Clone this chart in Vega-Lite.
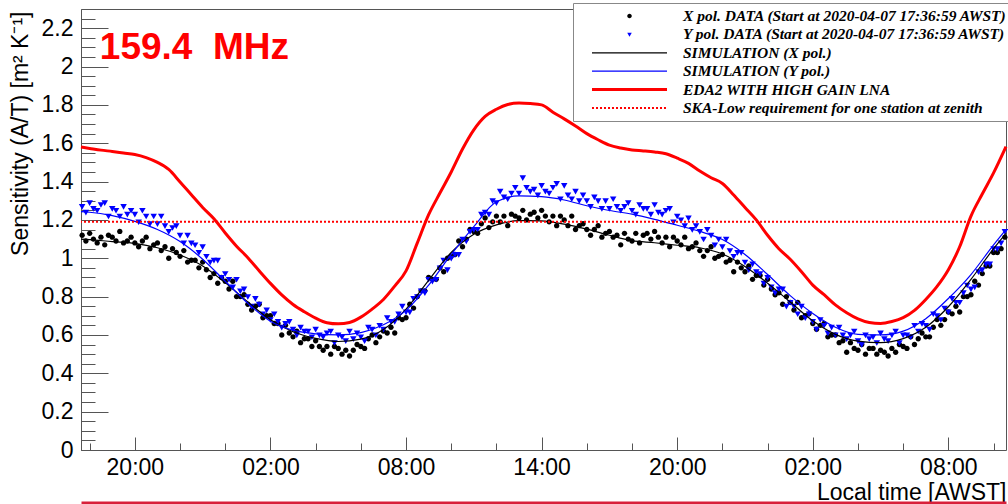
{
  "$schema": "https://vega.github.io/schema/vega-lite/v6.json",
  "width": 925,
  "height": 441,
  "autosize": {"type": "none"},
  "padding": {"left": 81, "top": 9, "right": 2, "bottom": 54},
  "background": "white",
  "config": {
    "view": {"stroke": "#555555", "strokeWidth": 1},
    "font": "Liberation Sans",
    "axis": {
      "labelFont": "Liberation Sans", "labelFontSize": 23, "labelColor": "black",
      "labelOverlap": false, "labelFlush": false, "labelBound": false,
      "tickColor": "#555555", "tickWidth": 1,
      "domain": false, "grid": false,
      "titleFont": "Liberation Sans", "titleFontSize": 23, "titleFontWeight": "normal", "titleColor": "black"
    }
  },
  "resolve": {"axis": {"x": "independent", "y": "independent"}},
  "datasets": {
    "xpol": [
      {"t":"2020-04-07T17:40","v":1.12},{"t":"2020-04-07T17:50","v":1.09},{"t":"2020-04-07T18:00","v":1.13},{"t":"2020-04-07T18:10","v":1.10},{"t":"2020-04-07T18:20","v":1.08},{"t":"2020-04-07T18:30","v":1.11},{"t":"2020-04-07T18:40","v":1.07},{"t":"2020-04-07T18:50","v":1.12},{"t":"2020-04-07T19:00","v":1.11},{"t":"2020-04-07T19:10","v":1.09},{"t":"2020-04-07T19:20","v":1.14},{"t":"2020-04-07T19:30","v":1.08},{"t":"2020-04-07T19:40","v":1.09},{"t":"2020-04-07T19:50","v":1.11},{"t":"2020-04-07T20:00","v":1.08},{"t":"2020-04-07T20:10","v":1.06},{"t":"2020-04-07T20:20","v":1.09},{"t":"2020-04-07T20:30","v":1.11},{"t":"2020-04-07T20:40","v":1.05},{"t":"2020-04-07T20:50","v":1.07},{"t":"2020-04-07T21:00","v":1.08},{"t":"2020-04-07T21:10","v":1.04},{"t":"2020-04-07T21:20","v":1.06},{"t":"2020-04-07T21:30","v":1.00},{"t":"2020-04-07T21:40","v":1.05},{"t":"2020-04-07T21:50","v":1.03},{"t":"2020-04-07T22:00","v":1.01},{"t":"2020-04-07T22:10","v":1.04},{"t":"2020-04-07T22:20","v":0.98},{"t":"2020-04-07T22:30","v":0.99},{"t":"2020-04-07T22:40","v":0.99},{"t":"2020-04-07T22:50","v":0.95},{"t":"2020-04-07T23:00","v":0.98},{"t":"2020-04-07T23:10","v":0.94},{"t":"2020-04-07T23:20","v":0.90},{"t":"2020-04-07T23:30","v":0.92},{"t":"2020-04-07T23:40","v":0.87},{"t":"2020-04-07T23:50","v":0.90},
      {"t":"2020-04-08T00:00","v":0.88},{"t":"2020-04-08T00:10","v":0.84},{"t":"2020-04-08T00:20","v":0.88},{"t":"2020-04-08T00:30","v":0.80},{"t":"2020-04-08T00:40","v":0.80},{"t":"2020-04-08T00:50","v":0.81},{"t":"2020-04-08T01:00","v":0.76},{"t":"2020-04-08T01:10","v":0.73},{"t":"2020-04-08T01:20","v":0.75},{"t":"2020-04-08T01:30","v":0.76},{"t":"2020-04-08T01:40","v":0.69},{"t":"2020-04-08T01:50","v":0.70},{"t":"2020-04-08T02:00","v":0.70},{"t":"2020-04-08T02:10","v":0.66},{"t":"2020-04-08T02:20","v":0.66},{"t":"2020-04-08T02:30","v":0.60},{"t":"2020-04-08T02:40","v":0.65},{"t":"2020-04-08T02:50","v":0.61},{"t":"2020-04-08T03:00","v":0.59},{"t":"2020-04-08T03:10","v":0.62},{"t":"2020-04-08T03:20","v":0.56},{"t":"2020-04-08T03:30","v":0.58},{"t":"2020-04-08T03:40","v":0.58},{"t":"2020-04-08T03:50","v":0.54},{"t":"2020-04-08T04:00","v":0.57},{"t":"2020-04-08T04:10","v":0.54},{"t":"2020-04-08T04:20","v":0.52},{"t":"2020-04-08T04:30","v":0.54},{"t":"2020-04-08T04:40","v":0.50},{"t":"2020-04-08T04:50","v":0.54},{"t":"2020-04-08T05:00","v":0.53},{"t":"2020-04-08T05:10","v":0.50},{"t":"2020-04-08T05:20","v":0.52},{"t":"2020-04-08T05:30","v":0.49},{"t":"2020-04-08T05:40","v":0.52},{"t":"2020-04-08T05:50","v":0.55},{"t":"2020-04-08T06:00","v":0.54},{"t":"2020-04-08T06:10","v":0.53},{"t":"2020-04-08T06:20","v":0.58},{"t":"2020-04-08T06:30","v":0.60},{"t":"2020-04-08T06:40","v":0.56},{"t":"2020-04-08T06:50","v":0.59},{"t":"2020-04-08T07:00","v":0.62},{"t":"2020-04-08T07:10","v":0.61},{"t":"2020-04-08T07:20","v":0.64},{"t":"2020-04-08T07:30","v":0.61},{"t":"2020-04-08T07:40","v":0.69},{"t":"2020-04-08T07:50","v":0.68},{"t":"2020-04-08T08:00","v":0.69},{"t":"2020-04-08T08:10","v":0.76},{"t":"2020-04-08T08:20","v":0.74},{"t":"2020-04-08T08:30","v":0.80},{"t":"2020-04-08T08:40","v":0.83},{"t":"2020-04-08T08:50","v":0.83},{"t":"2020-04-08T09:00","v":0.90},{"t":"2020-04-08T09:10","v":0.89},{"t":"2020-04-08T09:20","v":0.89},{"t":"2020-04-08T09:30","v":0.95},{"t":"2020-04-08T09:40","v":0.93},{"t":"2020-04-08T09:50","v":1.00},{"t":"2020-04-08T10:00","v":1.01},{"t":"2020-04-08T10:10","v":1.02},{"t":"2020-04-08T10:20","v":1.09},{"t":"2020-04-08T10:30","v":1.06},{"t":"2020-04-08T10:40","v":1.10},{"t":"2020-04-08T10:50","v":1.15},{"t":"2020-04-08T11:00","v":1.14},{"t":"2020-04-08T11:10","v":1.13},{"t":"2020-04-08T11:20","v":1.18},{"t":"2020-04-08T11:30","v":1.21},{"t":"2020-04-08T11:40","v":1.16},{"t":"2020-04-08T11:50","v":1.19},{"t":"2020-04-08T12:00","v":1.22},{"t":"2020-04-08T12:10","v":1.19},{"t":"2020-04-08T12:20","v":1.22},{"t":"2020-04-08T12:30","v":1.17},{"t":"2020-04-08T12:40","v":1.23},{"t":"2020-04-08T12:50","v":1.22},{"t":"2020-04-08T13:00","v":1.21},{"t":"2020-04-08T13:10","v":1.25},{"t":"2020-04-08T13:20","v":1.20},{"t":"2020-04-08T13:30","v":1.23},{"t":"2020-04-08T13:40","v":1.24},{"t":"2020-04-08T13:50","v":1.21},{"t":"2020-04-08T14:00","v":1.25},{"t":"2020-04-08T14:10","v":1.22},{"t":"2020-04-08T14:20","v":1.19},{"t":"2020-04-08T14:30","v":1.22},{"t":"2020-04-08T14:40","v":1.17},{"t":"2020-04-08T14:50","v":1.22},{"t":"2020-04-08T15:00","v":1.20},{"t":"2020-04-08T15:10","v":1.17},{"t":"2020-04-08T15:20","v":1.22},{"t":"2020-04-08T15:30","v":1.15},{"t":"2020-04-08T15:40","v":1.17},{"t":"2020-04-08T15:50","v":1.18},{"t":"2020-04-08T16:00","v":1.15},{"t":"2020-04-08T16:10","v":1.12},{"t":"2020-04-08T16:20","v":1.15},{"t":"2020-04-08T16:30","v":1.17},{"t":"2020-04-08T16:40","v":1.11},{"t":"2020-04-08T16:50","v":1.13},{"t":"2020-04-08T17:00","v":1.14},{"t":"2020-04-08T17:10","v":1.11},{"t":"2020-04-08T17:20","v":1.12},{"t":"2020-04-08T17:30","v":1.07},{"t":"2020-04-08T17:40","v":1.13},{"t":"2020-04-08T17:50","v":1.10},{"t":"2020-04-08T18:00","v":1.09},{"t":"2020-04-08T18:10","v":1.13},{"t":"2020-04-08T18:20","v":1.08},{"t":"2020-04-08T18:30","v":1.12},{"t":"2020-04-08T18:40","v":1.13},{"t":"2020-04-08T18:50","v":1.10},{"t":"2020-04-08T19:00","v":1.14},{"t":"2020-04-08T19:10","v":1.11},{"t":"2020-04-08T19:20","v":1.08},{"t":"2020-04-08T19:30","v":1.11},{"t":"2020-04-08T19:40","v":1.06},{"t":"2020-04-08T19:50","v":1.11},{"t":"2020-04-08T20:00","v":1.09},{"t":"2020-04-08T20:10","v":1.07},{"t":"2020-04-08T20:20","v":1.11},{"t":"2020-04-08T20:30","v":1.05},{"t":"2020-04-08T20:40","v":1.06},{"t":"2020-04-08T20:50","v":1.08},{"t":"2020-04-08T21:00","v":1.04},{"t":"2020-04-08T21:10","v":1.01},{"t":"2020-04-08T21:20","v":1.04},{"t":"2020-04-08T21:30","v":1.06},{"t":"2020-04-08T21:40","v":1.00},{"t":"2020-04-08T21:50","v":1.01},{"t":"2020-04-08T22:00","v":1.02},{"t":"2020-04-08T22:10","v":0.98},{"t":"2020-04-08T22:20","v":0.99},{"t":"2020-04-08T22:30","v":0.93},{"t":"2020-04-08T22:40","v":0.98},{"t":"2020-04-08T22:50","v":0.95},{"t":"2020-04-08T23:00","v":0.93},{"t":"2020-04-08T23:10","v":0.96},{"t":"2020-04-08T23:20","v":0.89},{"t":"2020-04-08T23:30","v":0.91},{"t":"2020-04-08T23:40","v":0.91},{"t":"2020-04-08T23:50","v":0.86},
      {"t":"2020-04-09T00:00","v":0.89},{"t":"2020-04-09T00:10","v":0.84},{"t":"2020-04-09T00:20","v":0.81},{"t":"2020-04-09T00:30","v":0.82},{"t":"2020-04-09T00:40","v":0.76},{"t":"2020-04-09T00:50","v":0.80},{"t":"2020-04-09T01:00","v":0.77},{"t":"2020-04-09T01:10","v":0.73},{"t":"2020-04-09T01:20","v":0.77},{"t":"2020-04-09T01:30","v":0.69},{"t":"2020-04-09T01:40","v":0.70},{"t":"2020-04-09T01:50","v":0.71},{"t":"2020-04-09T02:00","v":0.66},{"t":"2020-04-09T02:10","v":0.63},{"t":"2020-04-09T02:20","v":0.65},{"t":"2020-04-09T02:30","v":0.66},{"t":"2020-04-09T02:40","v":0.59},{"t":"2020-04-09T02:50","v":0.60},{"t":"2020-04-09T03:00","v":0.60},{"t":"2020-04-09T03:10","v":0.56},{"t":"2020-04-09T03:20","v":0.57},{"t":"2020-04-09T03:30","v":0.51},{"t":"2020-04-09T03:40","v":0.56},{"t":"2020-04-09T03:50","v":0.53},{"t":"2020-04-09T04:00","v":0.52},{"t":"2020-04-09T04:10","v":0.55},{"t":"2020-04-09T04:20","v":0.50},{"t":"2020-04-09T04:30","v":0.53},{"t":"2020-04-09T04:40","v":0.53},{"t":"2020-04-09T04:50","v":0.50},{"t":"2020-04-09T05:00","v":0.52},{"t":"2020-04-09T05:10","v":0.51},{"t":"2020-04-09T05:20","v":0.49},{"t":"2020-04-09T05:30","v":0.53},{"t":"2020-04-09T05:40","v":0.51},{"t":"2020-04-09T05:50","v":0.55},{"t":"2020-04-09T06:00","v":0.54},{"t":"2020-04-09T06:10","v":0.53},{"t":"2020-04-09T06:20","v":0.59},{"t":"2020-04-09T06:30","v":0.55},{"t":"2020-04-09T06:40","v":0.58},{"t":"2020-04-09T06:50","v":0.61},{"t":"2020-04-09T07:00","v":0.59},{"t":"2020-04-09T07:10","v":0.59},{"t":"2020-04-09T07:20","v":0.64},{"t":"2020-04-09T07:30","v":0.68},{"t":"2020-04-09T07:40","v":0.65},{"t":"2020-04-09T07:50","v":0.68},{"t":"2020-04-09T08:00","v":0.72},{"t":"2020-04-09T08:10","v":0.71},{"t":"2020-04-09T08:20","v":0.75},{"t":"2020-04-09T08:30","v":0.72},{"t":"2020-04-09T08:40","v":0.80},{"t":"2020-04-09T08:50","v":0.80},{"t":"2020-04-09T09:00","v":0.81},{"t":"2020-04-09T09:10","v":0.88},{"t":"2020-04-09T09:20","v":0.86},{"t":"2020-04-09T09:30","v":0.92},{"t":"2020-04-09T09:40","v":0.96},{"t":"2020-04-09T09:50","v":0.96},{"t":"2020-04-09T10:00","v":1.03},{"t":"2020-04-09T10:10","v":1.03},{"t":"2020-04-09T10:20","v":1.05},{"t":"2020-04-09T10:30","v":1.11}
    ],
    "ypol": [
      {"t":"2020-04-07T17:40","v":1.27},{"t":"2020-04-07T17:50","v":1.24},{"t":"2020-04-07T18:00","v":1.29},{"t":"2020-04-07T18:10","v":1.26},{"t":"2020-04-07T18:20","v":1.25},{"t":"2020-04-07T18:30","v":1.28},{"t":"2020-04-07T18:40","v":1.29},{"t":"2020-04-07T18:50","v":1.22},{"t":"2020-04-07T19:00","v":1.26},{"t":"2020-04-07T19:10","v":1.25},{"t":"2020-04-07T19:20","v":1.22},{"t":"2020-04-07T19:30","v":1.27},{"t":"2020-04-07T19:40","v":1.23},{"t":"2020-04-07T19:50","v":1.25},{"t":"2020-04-07T20:00","v":1.23},{"t":"2020-04-07T20:10","v":1.19},{"t":"2020-04-07T20:20","v":1.25},{"t":"2020-04-07T20:30","v":1.22},{"t":"2020-04-07T20:40","v":1.18},{"t":"2020-04-07T20:50","v":1.22},{"t":"2020-04-07T21:00","v":1.18},{"t":"2020-04-07T21:10","v":1.22},{"t":"2020-04-07T21:20","v":1.17},{"t":"2020-04-07T21:30","v":1.14},{"t":"2020-04-07T21:40","v":1.16},{"t":"2020-04-07T21:50","v":1.17},{"t":"2020-04-07T22:00","v":1.12},{"t":"2020-04-07T22:10","v":1.08},{"t":"2020-04-07T22:20","v":1.12},{"t":"2020-04-07T22:30","v":1.08},{"t":"2020-04-07T22:40","v":1.07},{"t":"2020-04-07T22:50","v":1.03},{"t":"2020-04-07T23:00","v":1.06},{"t":"2020-04-07T23:10","v":1.01},{"t":"2020-04-07T23:20","v":0.98},{"t":"2020-04-07T23:30","v":0.99},{"t":"2020-04-07T23:40","v":0.99},{"t":"2020-04-07T23:50","v":0.90},
      {"t":"2020-04-08T00:00","v":0.92},{"t":"2020-04-08T00:10","v":0.89},{"t":"2020-04-08T00:20","v":0.85},{"t":"2020-04-08T00:30","v":0.89},{"t":"2020-04-08T00:40","v":0.83},{"t":"2020-04-08T00:50","v":0.84},{"t":"2020-04-08T01:00","v":0.80},{"t":"2020-04-08T01:10","v":0.75},{"t":"2020-04-08T01:20","v":0.79},{"t":"2020-04-08T01:30","v":0.76},{"t":"2020-04-08T01:40","v":0.71},{"t":"2020-04-08T01:50","v":0.73},{"t":"2020-04-08T02:00","v":0.68},{"t":"2020-04-08T02:10","v":0.71},{"t":"2020-04-08T02:20","v":0.67},{"t":"2020-04-08T02:30","v":0.64},{"t":"2020-04-08T02:40","v":0.66},{"t":"2020-04-08T02:50","v":0.67},{"t":"2020-04-08T03:00","v":0.63},{"t":"2020-04-08T03:10","v":0.60},{"t":"2020-04-08T03:20","v":0.64},{"t":"2020-04-08T03:30","v":0.62},{"t":"2020-04-08T03:40","v":0.62},{"t":"2020-04-08T03:50","v":0.59},{"t":"2020-04-08T04:00","v":0.63},{"t":"2020-04-08T04:10","v":0.60},{"t":"2020-04-08T04:20","v":0.59},{"t":"2020-04-08T04:30","v":0.61},{"t":"2020-04-08T04:40","v":0.62},{"t":"2020-04-08T04:50","v":0.56},{"t":"2020-04-08T05:00","v":0.60},{"t":"2020-04-08T05:10","v":0.59},{"t":"2020-04-08T05:20","v":0.57},{"t":"2020-04-08T05:30","v":0.62},{"t":"2020-04-08T05:40","v":0.58},{"t":"2020-04-08T05:50","v":0.61},{"t":"2020-04-08T06:00","v":0.59},{"t":"2020-04-08T06:10","v":0.57},{"t":"2020-04-08T06:20","v":0.64},{"t":"2020-04-08T06:30","v":0.63},{"t":"2020-04-08T06:40","v":0.60},{"t":"2020-04-08T06:50","v":0.65},{"t":"2020-04-08T07:00","v":0.63},{"t":"2020-04-08T07:10","v":0.69},{"t":"2020-04-08T07:20","v":0.67},{"t":"2020-04-08T07:30","v":0.67},{"t":"2020-04-08T07:40","v":0.71},{"t":"2020-04-08T07:50","v":0.75},{"t":"2020-04-08T08:00","v":0.72},{"t":"2020-04-08T08:10","v":0.72},{"t":"2020-04-08T08:20","v":0.79},{"t":"2020-04-08T08:30","v":0.80},{"t":"2020-04-08T08:40","v":0.83},{"t":"2020-04-08T08:50","v":0.82},{"t":"2020-04-08T09:00","v":0.89},{"t":"2020-04-08T09:10","v":0.88},{"t":"2020-04-08T09:20","v":0.89},{"t":"2020-04-08T09:30","v":0.95},{"t":"2020-04-08T09:40","v":0.99},{"t":"2020-04-08T09:50","v":0.94},{"t":"2020-04-08T10:00","v":1.00},{"t":"2020-04-08T10:10","v":1.02},{"t":"2020-04-08T10:20","v":1.02},{"t":"2020-04-08T10:30","v":1.10},{"t":"2020-04-08T10:40","v":1.09},{"t":"2020-04-08T10:50","v":1.14},{"t":"2020-04-08T11:00","v":1.15},{"t":"2020-04-08T11:10","v":1.15},{"t":"2020-04-08T11:20","v":1.23},{"t":"2020-04-08T11:30","v":1.24},{"t":"2020-04-08T11:40","v":1.23},{"t":"2020-04-08T11:50","v":1.30},{"t":"2020-04-08T12:00","v":1.29},{"t":"2020-04-08T12:10","v":1.35},{"t":"2020-04-08T12:20","v":1.32},{"t":"2020-04-08T12:30","v":1.31},{"t":"2020-04-08T12:40","v":1.34},{"t":"2020-04-08T12:50","v":1.37},{"t":"2020-04-08T13:00","v":1.34},{"t":"2020-04-08T13:10","v":1.42},{"t":"2020-04-08T13:20","v":1.37},{"t":"2020-04-08T13:30","v":1.35},{"t":"2020-04-08T13:40","v":1.36},{"t":"2020-04-08T13:50","v":1.33},{"t":"2020-04-08T14:00","v":1.38},{"t":"2020-04-08T14:10","v":1.35},{"t":"2020-04-08T14:20","v":1.34},{"t":"2020-04-08T14:30","v":1.37},{"t":"2020-04-08T14:40","v":1.39},{"t":"2020-04-08T14:50","v":1.31},{"t":"2020-04-08T15:00","v":1.38},{"t":"2020-04-08T15:10","v":1.33},{"t":"2020-04-08T15:20","v":1.31},{"t":"2020-04-08T15:30","v":1.35},{"t":"2020-04-08T15:40","v":1.30},{"t":"2020-04-08T15:50","v":1.33},{"t":"2020-04-08T16:00","v":1.30},{"t":"2020-04-08T16:10","v":1.27},{"t":"2020-04-08T16:20","v":1.32},{"t":"2020-04-08T16:30","v":1.30},{"t":"2020-04-08T16:40","v":1.26},{"t":"2020-04-08T16:50","v":1.30},{"t":"2020-04-08T17:00","v":1.26},{"t":"2020-04-08T17:10","v":1.31},{"t":"2020-04-08T17:20","v":1.27},{"t":"2020-04-08T17:30","v":1.25},{"t":"2020-04-08T17:40","v":1.27},{"t":"2020-04-08T17:50","v":1.29},{"t":"2020-04-08T18:00","v":1.25},{"t":"2020-04-08T18:10","v":1.23},{"t":"2020-04-08T18:20","v":1.28},{"t":"2020-04-08T18:30","v":1.26},{"t":"2020-04-08T18:40","v":1.26},{"t":"2020-04-08T18:50","v":1.23},{"t":"2020-04-08T19:00","v":1.28},{"t":"2020-04-08T19:10","v":1.24},{"t":"2020-04-08T19:20","v":1.23},{"t":"2020-04-08T19:30","v":1.25},{"t":"2020-04-08T19:40","v":1.26},{"t":"2020-04-08T19:50","v":1.19},{"t":"2020-04-08T20:00","v":1.22},{"t":"2020-04-08T20:10","v":1.20},{"t":"2020-04-08T20:20","v":1.17},{"t":"2020-04-08T20:30","v":1.21},{"t":"2020-04-08T20:40","v":1.15},{"t":"2020-04-08T20:50","v":1.17},{"t":"2020-04-08T21:00","v":1.14},{"t":"2020-04-08T21:10","v":1.10},{"t":"2020-04-08T21:20","v":1.15},{"t":"2020-04-08T21:30","v":1.12},{"t":"2020-04-08T21:40","v":1.07},{"t":"2020-04-08T21:50","v":1.10},{"t":"2020-04-08T22:00","v":1.06},{"t":"2020-04-08T22:10","v":1.10},{"t":"2020-04-08T22:20","v":1.04},{"t":"2020-04-08T22:30","v":1.01},{"t":"2020-04-08T22:40","v":1.03},{"t":"2020-04-08T22:50","v":1.03},{"t":"2020-04-08T23:00","v":0.98},{"t":"2020-04-08T23:10","v":0.94},{"t":"2020-04-08T23:20","v":0.97},{"t":"2020-04-08T23:30","v":0.93},{"t":"2020-04-08T23:40","v":0.92},{"t":"2020-04-08T23:50","v":0.87},
      {"t":"2020-04-09T00:00","v":0.90},{"t":"2020-04-09T00:10","v":0.85},{"t":"2020-04-09T00:20","v":0.82},{"t":"2020-04-09T00:30","v":0.84},{"t":"2020-04-09T00:40","v":0.84},{"t":"2020-04-09T00:50","v":0.75},{"t":"2020-04-09T01:00","v":0.77},{"t":"2020-04-09T01:10","v":0.75},{"t":"2020-04-09T01:20","v":0.71},{"t":"2020-04-09T01:30","v":0.75},{"t":"2020-04-09T01:40","v":0.69},{"t":"2020-04-09T01:50","v":0.71},{"t":"2020-04-09T02:00","v":0.67},{"t":"2020-04-09T02:10","v":0.63},{"t":"2020-04-09T02:20","v":0.68},{"t":"2020-04-09T02:30","v":0.65},{"t":"2020-04-09T02:40","v":0.61},{"t":"2020-04-09T02:50","v":0.64},{"t":"2020-04-09T03:00","v":0.60},{"t":"2020-04-09T03:10","v":0.64},{"t":"2020-04-09T03:20","v":0.60},{"t":"2020-04-09T03:30","v":0.58},{"t":"2020-04-09T03:40","v":0.60},{"t":"2020-04-09T03:50","v":0.62},{"t":"2020-04-09T04:00","v":0.57},{"t":"2020-04-09T04:10","v":0.55},{"t":"2020-04-09T04:20","v":0.60},{"t":"2020-04-09T04:30","v":0.58},{"t":"2020-04-09T04:40","v":0.59},{"t":"2020-04-09T04:50","v":0.56},{"t":"2020-04-09T05:00","v":0.61},{"t":"2020-04-09T05:10","v":0.58},{"t":"2020-04-09T05:20","v":0.57},{"t":"2020-04-09T05:30","v":0.60},{"t":"2020-04-09T05:40","v":0.62},{"t":"2020-04-09T05:50","v":0.56},{"t":"2020-04-09T06:00","v":0.60},{"t":"2020-04-09T06:10","v":0.60},{"t":"2020-04-09T06:20","v":0.59},{"t":"2020-04-09T06:30","v":0.65},{"t":"2020-04-09T06:40","v":0.62},{"t":"2020-04-09T06:50","v":0.66},{"t":"2020-04-09T07:00","v":0.65},{"t":"2020-04-09T07:10","v":0.63},{"t":"2020-04-09T07:20","v":0.71},{"t":"2020-04-09T07:30","v":0.70},{"t":"2020-04-09T07:40","v":0.68},{"t":"2020-04-09T07:50","v":0.74},{"t":"2020-04-09T08:00","v":0.72},{"t":"2020-04-09T08:10","v":0.79},{"t":"2020-04-09T08:20","v":0.77},{"t":"2020-04-09T08:30","v":0.77},{"t":"2020-04-09T08:40","v":0.82},{"t":"2020-04-09T08:50","v":0.86},{"t":"2020-04-09T09:00","v":0.84},{"t":"2020-04-09T09:10","v":0.85},{"t":"2020-04-09T09:20","v":0.93},{"t":"2020-04-09T09:30","v":0.94},{"t":"2020-04-09T09:40","v":0.97},{"t":"2020-04-09T09:50","v":0.97},{"t":"2020-04-09T10:00","v":1.05},{"t":"2020-04-09T10:10","v":1.05},{"t":"2020-04-09T10:20","v":1.08},{"t":"2020-04-09T10:30","v":1.14}
    ],
    "simx": [
      {"t":"2020-04-07T17:37","v":1.100},{"t":"2020-04-07T18:00","v":1.097},{"t":"2020-04-07T19:00","v":1.087},{"t":"2020-04-07T20:00","v":1.078},{"t":"2020-04-07T21:00","v":1.055},{"t":"2020-04-07T22:00","v":1.017},{"t":"2020-04-07T23:00","v":0.960},
      {"t":"2020-04-08T00:00","v":0.873},{"t":"2020-04-08T01:00","v":0.772},{"t":"2020-04-08T02:00","v":0.679},{"t":"2020-04-08T03:00","v":0.617},{"t":"2020-04-08T04:00","v":0.582},{"t":"2020-04-08T05:00","v":0.566},{"t":"2020-04-08T06:00","v":0.578},{"t":"2020-04-08T07:00","v":0.628},{"t":"2020-04-08T08:00","v":0.735},{"t":"2020-04-08T09:00","v":0.885},{"t":"2020-04-08T10:00","v":1.030},{"t":"2020-04-08T11:00","v":1.125},{"t":"2020-04-08T12:00","v":1.174},{"t":"2020-04-08T13:00","v":1.196},{"t":"2020-04-08T14:00","v":1.195},{"t":"2020-04-08T15:00","v":1.178},{"t":"2020-04-08T16:00","v":1.152},{"t":"2020-04-08T17:00","v":1.120},{"t":"2020-04-08T18:00","v":1.092},{"t":"2020-04-08T19:00","v":1.081},{"t":"2020-04-08T20:00","v":1.068},{"t":"2020-04-08T21:00","v":1.055},{"t":"2020-04-08T22:00","v":1.022},{"t":"2020-04-08T23:00","v":0.957},
      {"t":"2020-04-09T00:00","v":0.870},{"t":"2020-04-09T01:00","v":0.772},{"t":"2020-04-09T02:00","v":0.674},{"t":"2020-04-09T03:00","v":0.603},{"t":"2020-04-09T04:00","v":0.568},{"t":"2020-04-09T05:00","v":0.560},{"t":"2020-04-09T06:00","v":0.581},{"t":"2020-04-09T07:00","v":0.640},{"t":"2020-04-09T08:00","v":0.747},{"t":"2020-04-09T09:00","v":0.890},{"t":"2020-04-09T10:00","v":1.050},{"t":"2020-04-09T10:33","v":1.130}
    ],
    "simy": [
      {"t":"2020-04-07T17:37","v":1.243},{"t":"2020-04-07T18:00","v":1.240},{"t":"2020-04-07T19:00","v":1.222},{"t":"2020-04-07T20:00","v":1.192},{"t":"2020-04-07T21:00","v":1.150},{"t":"2020-04-07T22:00","v":1.087},{"t":"2020-04-07T23:00","v":0.995},
      {"t":"2020-04-08T00:00","v":0.880},{"t":"2020-04-08T01:00","v":0.765},{"t":"2020-04-08T02:00","v":0.672},{"t":"2020-04-08T03:00","v":0.625},{"t":"2020-04-08T04:00","v":0.606},{"t":"2020-04-08T05:00","v":0.600},{"t":"2020-04-08T06:00","v":0.612},{"t":"2020-04-08T07:00","v":0.653},{"t":"2020-04-08T08:00","v":0.728},{"t":"2020-04-08T09:00","v":0.860},{"t":"2020-04-08T10:00","v":1.020},{"t":"2020-04-08T11:00","v":1.165},{"t":"2020-04-08T12:00","v":1.295},{"t":"2020-04-08T13:00","v":1.325},{"t":"2020-04-08T14:00","v":1.321},{"t":"2020-04-08T15:00","v":1.304},{"t":"2020-04-08T16:00","v":1.274},{"t":"2020-04-08T17:00","v":1.249},{"t":"2020-04-08T18:00","v":1.230},{"t":"2020-04-08T19:00","v":1.203},{"t":"2020-04-08T20:00","v":1.172},{"t":"2020-04-08T21:00","v":1.140},{"t":"2020-04-08T22:00","v":1.098},{"t":"2020-04-08T23:00","v":1.020},
      {"t":"2020-04-09T00:00","v":0.915},{"t":"2020-04-09T01:00","v":0.805},{"t":"2020-04-09T02:00","v":0.712},{"t":"2020-04-09T03:00","v":0.640},{"t":"2020-04-09T04:00","v":0.603},{"t":"2020-04-09T05:00","v":0.600},{"t":"2020-04-09T06:00","v":0.620},{"t":"2020-04-09T07:00","v":0.685},{"t":"2020-04-09T08:00","v":0.790},{"t":"2020-04-09T09:00","v":0.915},{"t":"2020-04-09T10:00","v":1.070},{"t":"2020-04-09T10:33","v":1.150}
    ],
    "eda2": [
      {"t":"2020-04-07T17:37","v":1.580},{"t":"2020-04-07T18:00","v":1.573},{"t":"2020-04-07T18:30","v":1.564},{"t":"2020-04-07T19:00","v":1.557},{"t":"2020-04-07T19:30","v":1.549},{"t":"2020-04-07T20:00","v":1.541},{"t":"2020-04-07T20:30","v":1.525},{"t":"2020-04-07T21:00","v":1.500},{"t":"2020-04-07T21:30","v":1.463},{"t":"2020-04-07T22:00","v":1.398},{"t":"2020-04-07T22:30","v":1.331},{"t":"2020-04-07T23:00","v":1.265},{"t":"2020-04-07T23:30","v":1.206},
      {"t":"2020-04-08T00:00","v":1.132},{"t":"2020-04-08T00:30","v":1.063},{"t":"2020-04-08T01:00","v":1.003},{"t":"2020-04-08T01:30","v":0.935},{"t":"2020-04-08T02:00","v":0.869},{"t":"2020-04-08T02:30","v":0.809},{"t":"2020-04-08T03:00","v":0.759},{"t":"2020-04-08T03:30","v":0.721},{"t":"2020-04-08T04:00","v":0.688},{"t":"2020-04-08T04:30","v":0.664},{"t":"2020-04-08T05:00","v":0.658},{"t":"2020-04-08T05:30","v":0.665},{"t":"2020-04-08T06:00","v":0.693},{"t":"2020-04-08T06:30","v":0.735},{"t":"2020-04-08T07:00","v":0.785},{"t":"2020-04-08T07:30","v":0.855},{"t":"2020-04-08T08:00","v":0.934},{"t":"2020-04-08T08:30","v":1.080},{"t":"2020-04-08T09:00","v":1.227},{"t":"2020-04-08T09:30","v":1.340},{"t":"2020-04-08T10:00","v":1.450},{"t":"2020-04-08T10:30","v":1.570},{"t":"2020-04-08T11:00","v":1.670},{"t":"2020-04-08T11:30","v":1.740},{"t":"2020-04-08T12:00","v":1.777},{"t":"2020-04-08T12:30","v":1.802},{"t":"2020-04-08T13:00","v":1.810},{"t":"2020-04-08T13:30","v":1.807},{"t":"2020-04-08T14:00","v":1.800},{"t":"2020-04-08T14:30","v":1.762},{"t":"2020-04-08T15:00","v":1.727},{"t":"2020-04-08T15:30","v":1.690},{"t":"2020-04-08T16:00","v":1.650},{"t":"2020-04-08T16:30","v":1.618},{"t":"2020-04-08T17:00","v":1.590},{"t":"2020-04-08T17:30","v":1.575},{"t":"2020-04-08T18:00","v":1.565},{"t":"2020-04-08T18:30","v":1.560},{"t":"2020-04-08T19:00","v":1.554},{"t":"2020-04-08T19:30","v":1.545},{"t":"2020-04-08T20:00","v":1.522},{"t":"2020-04-08T20:30","v":1.495},{"t":"2020-04-08T21:00","v":1.455},{"t":"2020-04-08T21:30","v":1.420},{"t":"2020-04-08T22:00","v":1.390},{"t":"2020-04-08T22:30","v":1.330},{"t":"2020-04-08T23:00","v":1.265},{"t":"2020-04-08T23:30","v":1.200},
      {"t":"2020-04-09T00:00","v":1.120},{"t":"2020-04-09T00:30","v":1.050},{"t":"2020-04-09T01:00","v":0.995},{"t":"2020-04-09T01:30","v":0.930},{"t":"2020-04-09T02:00","v":0.860},{"t":"2020-04-09T02:30","v":0.810},{"t":"2020-04-09T03:00","v":0.757},{"t":"2020-04-09T03:30","v":0.716},{"t":"2020-04-09T04:00","v":0.684},{"t":"2020-04-09T04:30","v":0.665},{"t":"2020-04-09T05:00","v":0.660},{"t":"2020-04-09T05:30","v":0.670},{"t":"2020-04-09T06:00","v":0.690},{"t":"2020-04-09T06:30","v":0.728},{"t":"2020-04-09T07:00","v":0.785},{"t":"2020-04-09T07:30","v":0.853},{"t":"2020-04-09T08:00","v":0.940},{"t":"2020-04-09T08:30","v":1.060},{"t":"2020-04-09T09:00","v":1.220},{"t":"2020-04-09T09:30","v":1.335},{"t":"2020-04-09T10:00","v":1.445},{"t":"2020-04-09T10:33","v":1.582}
    ]
  },
  "layer": [
    {
      "data": {"name": "xpol"},
      "mark": {"type": "point", "filled": true, "size": 8100, "opacity": 1},
      "encoding": {
        "x": {
          "field": "t", "type": "temporal",
          "scale": {"domain": [{"year": 2020, "month": 4, "date": 7, "hours": 17, "minutes": 37}, {"year": 2020, "month": 4, "date": 9, "hours": 10, "minutes": 33}], "nice": false},
          "axis": {
            "orient": "bottom",
            "title": "Local time [AWST]",
            "values": [
              {"year": 2020, "month": 4, "date": 7, "hours": 20},
              {"year": 2020, "month": 4, "date": 8, "hours": 2},
              {"year": 2020, "month": 4, "date": 8, "hours": 8},
              {"year": 2020, "month": 4, "date": 8, "hours": 14},
              {"year": 2020, "month": 4, "date": 8, "hours": 20},
              {"year": 2020, "month": 4, "date": 9, "hours": 2},
              {"year": 2020, "month": 4, "date": 9, "hours": 8}
            ],
            "format": "%H:%M",
            "tickSize": -13,
            "labelPadding": 19,
            "titleAnchor": "end", "titleAlign": "right", "titleBaseline": "alphabetic", "titleX": 925, "titleY": 49
          }
        },
        "y": {
          "field": "v", "type": "quantitative",
          "scale": {"domain": [0, 2.3], "nice": false, "zero": true},
          "axis": {
            "orient": "left",
            "title": "Sensitivity (A/T) [m² K⁻¹]",
            "values": [0,0.2,0.4,0.6,0.8,1,1.2,1.4,1.6,1.8,2,2.2],
            "format": ".1~f",
            "tickSize": -27,
            "labelPadding": 35,
            "titleAnchor": "end", "titleAngle": -90, "titleAlign": "right", "titleBaseline": "middle", "titleX": -61, "titleY": 2
          }
        },
        "color": {
          "datum": "X pol. DATA (Start at 2020-04-07 17:36:59 AWST)",
          "scale": {
            "domain": ["X pol. DATA (Start at 2020-04-07 17:36:59 AWST)", "Y pol. DATA (Start at 2020-04-07 17:36:59 AWST)", "SIMULATION (X pol.)", "SIMULATION (Y pol.)", "EDA2 WITH HIGH GAIN LNA", "SKA-Low requirement for one station at zenith"],
            "range": ["#000000", "#0000ff", "#000000", "#0000ff", "#ff0000", "#ff0000"]
          },
          "legend": {
            "title": null,
            "orient": "none", "legendX": 492, "legendY": -6,
            "direction": "vertical",
            "fillColor": "white", "strokeColor": "#888888", "cornerRadius": 0,
            "padding": 4,
            "symbolSize": 5625, "symbolStrokeWidth": 0, "symbolOpacity": 1, "clipHeight": 18, "rowPadding": 0.4,
            "symbolOffset": 15, "labelOffset": 16,
            "labelFont": "Liberation Serif", "labelFontStyle": "italic", "labelFontWeight": "bold", "labelFontSize": 15.5, "labelColor": "black", "labelLimit": 1000
          }
        },
        "shape": {
          "datum": "X pol. DATA (Start at 2020-04-07 17:36:59 AWST)",
          "scale": {
            "domain": ["X pol. DATA (Start at 2020-04-07 17:36:59 AWST)", "Y pol. DATA (Start at 2020-04-07 17:36:59 AWST)", "SIMULATION (X pol.)", "SIMULATION (Y pol.)", "EDA2 WITH HIGH GAIN LNA", "SKA-Low requirement for one station at zenith"],
            "range": [
              "M-0.06,0A0.06,0.06,0,1,0,0.06,0A0.06,0.06,0,1,0,-0.06,0Z",
              "M-0.06,-0.045L0.06,-0.045L0,0.06Z",
              "M-1,-0.016H1V0.016H-1Z",
              "M-1,-0.016H1V0.016H-1Z",
              "M-1,-0.04H1V0.04H-1Z",
              "M-1,-0.027H-0.947V0.027H-1Z M-0.893,-0.027H-0.84V0.027H-0.893Z M-0.787,-0.027H-0.733V0.027H-0.787Z M-0.68,-0.027H-0.627V0.027H-0.68Z M-0.573,-0.027H-0.52V0.027H-0.573Z M-0.467,-0.027H-0.413V0.027H-0.467Z M-0.36,-0.027H-0.307V0.027H-0.36Z M-0.253,-0.027H-0.2V0.027H-0.253Z M-0.147,-0.027H-0.093V0.027H-0.147Z M-0.04,-0.027H0.013V0.027H-0.04Z M0.067,-0.027H0.12V0.027H0.067Z M0.173,-0.027H0.227V0.027H0.173Z M0.28,-0.027H0.333V0.027H0.28Z M0.387,-0.027H0.44V0.027H0.387Z M0.493,-0.027H0.547V0.027H0.493Z M0.6,-0.027H0.653V0.027H0.6Z M0.707,-0.027H0.76V0.027H0.707Z M0.813,-0.027H0.867V0.027H0.813Z M0.92,-0.027H0.973V0.027H0.92Z"
            ]
          }
        }
      }
    },
    {
      "data": {"name": "ypol"},
      "mark": {"type": "point", "filled": true, "size": 11664, "opacity": 1},
      "encoding": {
        "x": {
          "field": "t", "type": "temporal",
          "axis": {"orient": "bottom", "title": null, "labels": false, "tickSize": -7,
            "values": [
              {"year": 2020, "month": 4, "date": 7, "hours": 18}, {"year": 2020, "month": 4, "date": 7, "hours": 20}, {"year": 2020, "month": 4, "date": 7, "hours": 22},
              {"year": 2020, "month": 4, "date": 8, "hours": 0}, {"year": 2020, "month": 4, "date": 8, "hours": 2}, {"year": 2020, "month": 4, "date": 8, "hours": 4},
              {"year": 2020, "month": 4, "date": 8, "hours": 6}, {"year": 2020, "month": 4, "date": 8, "hours": 8}, {"year": 2020, "month": 4, "date": 8, "hours": 10},
              {"year": 2020, "month": 4, "date": 8, "hours": 12}, {"year": 2020, "month": 4, "date": 8, "hours": 14}, {"year": 2020, "month": 4, "date": 8, "hours": 16},
              {"year": 2020, "month": 4, "date": 8, "hours": 18}, {"year": 2020, "month": 4, "date": 8, "hours": 20}, {"year": 2020, "month": 4, "date": 8, "hours": 22},
              {"year": 2020, "month": 4, "date": 9, "hours": 0}, {"year": 2020, "month": 4, "date": 9, "hours": 2}, {"year": 2020, "month": 4, "date": 9, "hours": 4},
              {"year": 2020, "month": 4, "date": 9, "hours": 6}, {"year": 2020, "month": 4, "date": 9, "hours": 8}, {"year": 2020, "month": 4, "date": 9, "hours": 10}
            ]
          }
        },
        "y": {
          "field": "v", "type": "quantitative",
          "axis": {"orient": "left", "title": null, "labels": false, "values": [0,0.05,0.1,0.15,0.2,0.25,0.3,0.35,0.4,0.45,0.5,0.55,0.6,0.65,0.7,0.75,0.8,0.85,0.9,0.95,1,1.05,1.1,1.15,1.2,1.25,1.3,1.35,1.4,1.45,1.5,1.55,1.6,1.65,1.7,1.75,1.8,1.85,1.9,1.95,2,2.05,2.1,2.15,2.2,2.25,2.3], "tickSize": -14}
        },
        "color": {"datum": "Y pol. DATA (Start at 2020-04-07 17:36:59 AWST)", "legend": null},
        "shape": {"datum": "Y pol. DATA (Start at 2020-04-07 17:36:59 AWST)", "legend": null}
      }
    },
    {
      "data": {"name": "simx"},
      "mark": {"type": "line", "interpolate": "monotone", "strokeWidth": 1.2},
      "encoding": {
        "x": {
          "field": "t", "type": "temporal",
          "axis": {"orient": "bottom", "title": null, "labels": false, "ticks": false, "values": [], "domain": true, "domainColor": "#d8203a", "domainWidth": 3, "offset": 52.5}
        },
        "y": {"field": "v", "type": "quantitative", "axis": null},
        "color": {"datum": "SIMULATION (X pol.)", "legend": null}
      }
    },
    {
      "data": {"name": "simy"},
      "mark": {"type": "line", "interpolate": "monotone", "strokeWidth": 1.2},
      "encoding": {
        "x": {"field": "t", "type": "temporal", "axis": null},
        "y": {"field": "v", "type": "quantitative", "axis": null},
        "color": {"datum": "SIMULATION (Y pol.)", "legend": null}
      }
    },
    {
      "data": {"name": "eda2"},
      "mark": {"type": "line", "interpolate": "monotone", "strokeWidth": 3},
      "encoding": {
        "x": {"field": "t", "type": "temporal", "axis": null},
        "y": {"field": "v", "type": "quantitative", "axis": null},
        "color": {"datum": "EDA2 WITH HIGH GAIN LNA", "legend": null}
      }
    },
    {
      "data": {"values": [{}]},
      "mark": {"type": "rule", "strokeWidth": 2, "strokeDash": [2, 2]},
      "encoding": {
        "y": {"datum": 1.19, "type": "quantitative", "axis": null},
        "color": {"datum": "SKA-Low requirement for one station at zenith", "legend": null}
      }
    },
    {
      "data": {"values": [{}]},
      "mark": {"type": "text", "text": "159.4\u00a0 MHz", "font": "Liberation Sans", "fontWeight": "bold", "fontSize": 37, "color": "#ff0000", "align": "left", "baseline": "alphabetic"},
      "encoding": {
        "x": {"datum": {"year": 2020, "month": 4, "date": 7, "hours": 18, "minutes": 27}, "type": "temporal", "axis": null},
        "y": {"datum": 2.04, "type": "quantitative", "axis": null}
      }
    }
  ]
}
